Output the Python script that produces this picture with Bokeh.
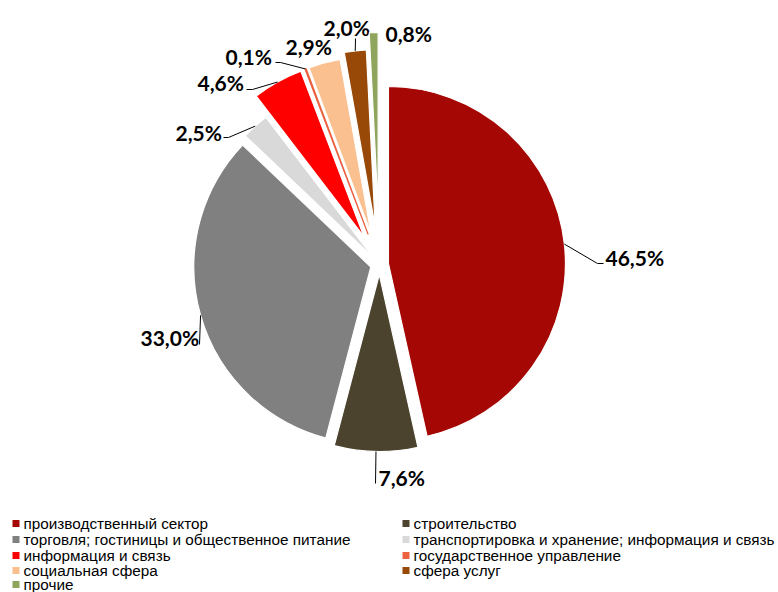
import math
from bokeh.plotting import figure
from bokeh.models import Range1d
from bokeh.embed import file_html
from bokeh.resources import INLINE
from bokeh.core.properties import value

# ---- data ----
categories = [
    "производственный сектор",
    "строительство",
    "торговля; гостиницы и общественное питание",
    "транспортировка и хранение; информация и связь",
    "информация и связь",
    "государственное управление",
    "социальная сфера",
    "сфера услуг",
    "прочие",
]
shares = [46.5, 7.6, 33.0, 2.5, 4.6, 0.1, 2.9, 2.0, 0.8]
labels = ["46,5%", "7,6%", "33,0%", "2,5%", "4,6%", "0,1%", "2,9%", "2,0%", "0,8%"]

# ---- styles ----
colors = ["#A50804", "#4B432D", "#808080", "#D9D9D9", "#FF0000",
          "#EC6240", "#FAC090", "#984807", "#8EA55B"]
edge_colors = ["white"] * 4 + ["white", "#EC6240"] + ["white"] * 3

# ---- layout (page pixel coordinates, y down) ----
W, H = 778, 592
CX, CY = 379, 264
R = 177
explode = [9, 10, 9, 9, 32, 32, 32, 38, 55]
label_pos = [(605, 257), (378, 477), (140, 337), (175, 132), (197, 82),
             (225, 56), (285, 46), (323, 27), (385, 33)]
leader_ends = [[(597, 263), (603, 263)], [(375, 483)], [(199, 344)],
               [(228, 137), (223, 137)], [(252, 89), (246, 89)],
               [(280, 62), (275, 62)], None, [(355, 38)], None]
leg_marker_x = [15.5, 405.5]
leg_text_x = [23, 413]
leg_row_y = [523, 539, 555, 570, 584]


def dx(x):
    return x


def dy(y):
    return H - y


p = figure(width=W, height=H, output_backend="svg", toolbar_location=None,
           x_range=Range1d(0, W), y_range=Range1d(0, H), min_border=0)
p.axis.visible = False
p.grid.visible = False
p.outline_line_color = None
p.background_fill_color = "white"
p.border_fill_color = "white"

total = sum(shares)
cum = 0.0
for i, s in enumerate(shares):
    t1 = cum / total * 360.0
    cum += s
    t2 = cum / total * 360.0
    tm = math.radians((t1 + t2) / 2)
    cx = dx(CX) + explode[i] * math.sin(tm)
    cy = dy(CY) + explode[i] * math.cos(tm)
    p.wedge(x=[cx], y=[cy], radius=R,
            start_angle=math.radians(90 - t1), end_angle=math.radians(90 - t2),
            direction="clock", fill_color=colors[i], line_color=edge_colors[i],
            line_width=1.2)
    # leader line
    if leader_ends[i]:
        xs = [cx + R * math.sin(tm)] + [dx(a) for a, b in leader_ends[i]]
        ys = [cy + R * math.cos(tm)] + [dy(b) for a, b in leader_ends[i]]
        p.line(xs, ys, line_color="black", line_width=1)
    lx, ly = label_pos[i]
    p.text(x=[dx(lx)], y=[dy(ly)], text=[labels[i]], text_font=value("Lato"),
           text_font_style="bold", text_font_size="21px", text_color="black",
           text_align="left", text_baseline="middle")

# legend
for i, name in enumerate(categories):
    row, col = i // 2, i % 2
    yy = dy(leg_row_y[row])
    p.scatter(x=[dx(leg_marker_x[col])], y=[yy], marker="square", size=7,
              fill_color=colors[i], line_color=None)
    p.text(x=[dx(leg_text_x[col])], y=[yy], text=[name],
           text_font=value("Liberation Sans"), text_font_size="15.3px",
           text_color="black", text_align="left", text_baseline="middle")

open("out.html", "w").write(file_html(p, INLINE))
